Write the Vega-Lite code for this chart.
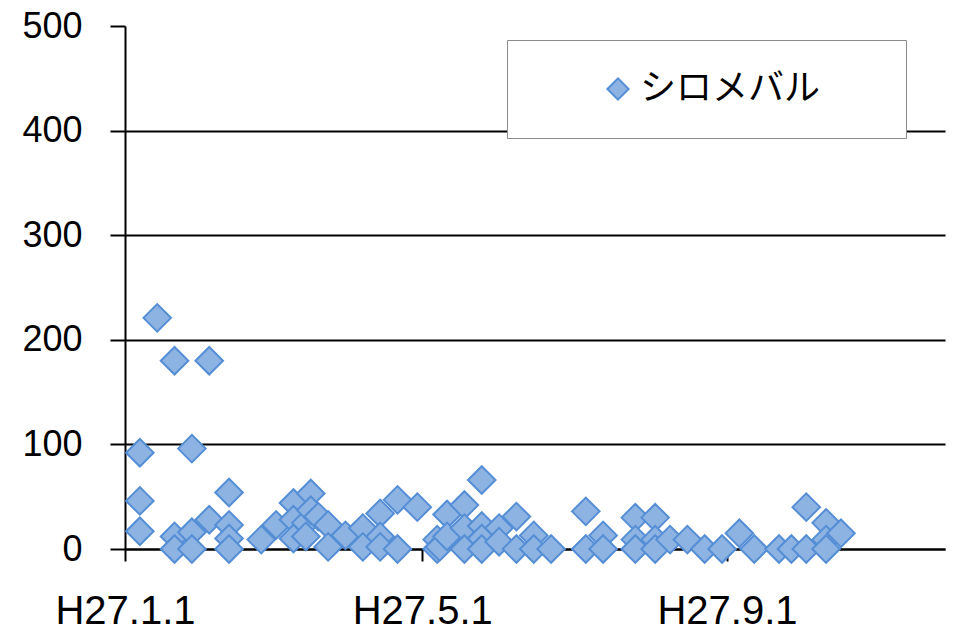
{
  "$schema": "https://vega.github.io/schema/vega-lite/v6.json",
  "width": 820,
  "height": 523,
  "autosize": {"type": "none"},
  "padding": {"left": 125, "top": 26, "right": 10, "bottom": 84},
  "background": "white",
  "config": {"view": {"stroke": null}},
  "data": {
    "values": [
      {"date": "2015-01-07", "count": 92, "species": "シロメバル"},
      {"date": "2015-01-07", "count": 46, "species": "シロメバル"},
      {"date": "2015-01-07", "count": 17, "species": "シロメバル"},
      {"date": "2015-01-14", "count": 221, "species": "シロメバル"},
      {"date": "2015-01-21", "count": 180, "species": "シロメバル"},
      {"date": "2015-01-21", "count": 12, "species": "シロメバル"},
      {"date": "2015-01-21", "count": 0, "species": "シロメバル"},
      {"date": "2015-01-28", "count": 96, "species": "シロメバル"},
      {"date": "2015-01-28", "count": 16, "species": "シロメバル"},
      {"date": "2015-01-28", "count": 0, "species": "シロメバル"},
      {"date": "2015-02-04", "count": 180, "species": "シロメバル"},
      {"date": "2015-02-04", "count": 28, "species": "シロメバル"},
      {"date": "2015-02-12", "count": 54, "species": "シロメバル"},
      {"date": "2015-02-12", "count": 23, "species": "シロメバル"},
      {"date": "2015-02-12", "count": 10, "species": "シロメバル"},
      {"date": "2015-02-12", "count": 0, "species": "シロメバル"},
      {"date": "2015-02-25", "count": 9, "species": "シロメバル"},
      {"date": "2015-03-03", "count": 23, "species": "シロメバル"},
      {"date": "2015-03-10", "count": 44, "species": "シロメバル"},
      {"date": "2015-03-10", "count": 28, "species": "シロメバル"},
      {"date": "2015-03-10", "count": 10, "species": "シロメバル"},
      {"date": "2015-03-15", "count": 25, "species": "シロメバル"},
      {"date": "2015-03-15", "count": 12, "species": "シロメバル"},
      {"date": "2015-03-17", "count": 53, "species": "シロメバル"},
      {"date": "2015-03-17", "count": 37, "species": "シロメバル"},
      {"date": "2015-03-20", "count": 31, "species": "シロメバル"},
      {"date": "2015-03-24", "count": 23, "species": "シロメバル"},
      {"date": "2015-03-24", "count": 2, "species": "シロメバル"},
      {"date": "2015-03-31", "count": 13, "species": "シロメバル"},
      {"date": "2015-04-07", "count": 20, "species": "シロメバル"},
      {"date": "2015-04-07", "count": 2, "species": "シロメバル"},
      {"date": "2015-04-14", "count": 34, "species": "シロメバル"},
      {"date": "2015-04-14", "count": 12, "species": "シロメバル"},
      {"date": "2015-04-14", "count": 2, "species": "シロメバル"},
      {"date": "2015-04-21", "count": 47, "species": "シロメバル"},
      {"date": "2015-04-21", "count": 0, "species": "シロメバル"},
      {"date": "2015-04-29", "count": 40, "species": "シロメバル"},
      {"date": "2015-05-07", "count": 9, "species": "シロメバル"},
      {"date": "2015-05-07", "count": 0, "species": "シロメバル"},
      {"date": "2015-05-08", "count": 2, "species": "シロメバル"},
      {"date": "2015-05-11", "count": 33, "species": "シロメバル"},
      {"date": "2015-05-11", "count": 12, "species": "シロメバル"},
      {"date": "2015-05-18", "count": 42, "species": "シロメバル"},
      {"date": "2015-05-18", "count": 20, "species": "シロメバル"},
      {"date": "2015-05-18", "count": 0, "species": "シロメバル"},
      {"date": "2015-05-25", "count": 66, "species": "シロメバル"},
      {"date": "2015-05-25", "count": 22, "species": "シロメバル"},
      {"date": "2015-05-25", "count": 10, "species": "シロメバル"},
      {"date": "2015-05-25", "count": 0, "species": "シロメバル"},
      {"date": "2015-06-01", "count": 20, "species": "シロメバル"},
      {"date": "2015-06-01", "count": 7, "species": "シロメバル"},
      {"date": "2015-06-08", "count": 31, "species": "シロメバル"},
      {"date": "2015-06-08", "count": 0, "species": "シロメバル"},
      {"date": "2015-06-15", "count": 13, "species": "シロメバル"},
      {"date": "2015-06-15", "count": 0, "species": "シロメバル"},
      {"date": "2015-06-22", "count": 0, "species": "シロメバル"},
      {"date": "2015-07-06", "count": 36, "species": "シロメバル"},
      {"date": "2015-07-06", "count": 0, "species": "シロメバル"},
      {"date": "2015-07-13", "count": 13, "species": "シロメバル"},
      {"date": "2015-07-13", "count": 0, "species": "シロメバル"},
      {"date": "2015-07-26", "count": 30, "species": "シロメバル"},
      {"date": "2015-07-26", "count": 9, "species": "シロメバル"},
      {"date": "2015-07-26", "count": 0, "species": "シロメバル"},
      {"date": "2015-08-03", "count": 30, "species": "シロメバル"},
      {"date": "2015-08-03", "count": 9, "species": "シロメバル"},
      {"date": "2015-08-03", "count": 0, "species": "シロメバル"},
      {"date": "2015-08-09", "count": 9, "species": "シロメバル"},
      {"date": "2015-08-16", "count": 9, "species": "シロメバル"},
      {"date": "2015-08-23", "count": 0, "species": "シロメバル"},
      {"date": "2015-08-30", "count": 0, "species": "シロメバル"},
      {"date": "2015-09-06", "count": 15, "species": "シロメバル"},
      {"date": "2015-09-12", "count": 0, "species": "シロメバル"},
      {"date": "2015-09-22", "count": 0, "species": "シロメバル"},
      {"date": "2015-09-27", "count": 0, "species": "シロメバル"},
      {"date": "2015-10-03", "count": 40, "species": "シロメバル"},
      {"date": "2015-10-03", "count": 0, "species": "シロメバル"},
      {"date": "2015-10-11", "count": 25, "species": "シロメバル"},
      {"date": "2015-10-11", "count": 9, "species": "シロメバル"},
      {"date": "2015-10-11", "count": 0, "species": "シロメバル"},
      {"date": "2015-10-17", "count": 15, "species": "シロメバル"}
    ]
  },
  "mark": {
    "type": "point",
    "shape": "diamond",
    "filled": true,
    "size": 760,
    "opacity": 1,
    "stroke": "#558ed5",
    "strokeWidth": 2
  },
  "encoding": {
    "x": {
      "field": "date",
      "type": "temporal",
      "title": null,
      "scale": {
        "type": "utc",
        "domain": [
          {"year": 2015, "month": 1, "date": 1, "utc": true},
          {"year": 2015, "month": 11, "date": 28, "utc": true}
        ]
      },
      "axis": {
        "values": [
          {"year": 2015, "month": 1, "date": 1, "utc": true},
          {"year": 2015, "month": 5, "date": 1, "utc": true},
          {"year": 2015, "month": 9, "date": 1, "utc": true}
        ],
        "labelExpr": "'H27.' + (utcmonth(datum.value) + 1) + '.' + utcdate(datum.value)",
        "grid": false,
        "domainColor": "black",
        "domainWidth": 2,
        "tickColor": "black",
        "tickWidth": 2,
        "tickSize": 12,
        "labelPadding": 30,
        "labelFont": "Liberation Sans",
        "labelFontSize": 40,
        "labelColor": "black",
        "labelFlush": false,
        "labelOverlap": false
      }
    },
    "y": {
      "field": "count",
      "type": "quantitative",
      "title": null,
      "scale": {"domain": [0, 500], "nice": false},
      "axis": {
        "values": [0, 100, 200, 300, 400, 500],
        "grid": true,
        "gridColor": "black",
        "gridWidth": 2,
        "gridOpacity": {"condition": {"test": "datum.value >= 500", "value": 0}, "value": 1},
        "domainColor": "black",
        "domainWidth": 2,
        "tickColor": "black",
        "tickWidth": 2,
        "tickSize": 15,
        "labelPadding": 28,
        "labelFont": "Liberation Sans",
        "labelFontSize": 36,
        "labelColor": "black"
      }
    },
    "color": {
      "field": "species",
      "type": "nominal",
      "scale": {"range": ["#8db3e2"]},
      "legend": {
        "title": null,
        "orient": "none",
        "legendX": 382,
        "legendY": 14,
        "padding": 31,
        "fillColor": "white",
        "strokeColor": "#8c8c8c",
        "symbolType": "diamond",
        "symbolSize": 450,
        "symbolFillColor": "#8db3e2",
        "symbolStrokeColor": "#558ed5",
        "symbolStrokeWidth": 2,
        "symbolOpacity": 1,
        "symbolOffset": 62,
        "labelOffset": 4,
        "labelFont": "Noto Sans CJK JP",
        "labelFontSize": 36,
        "labelColor": "black",
        "labelLimit": 500,
        "labelExpr": "datum.label + '\u3000\u2002\u200b'"
      }
    }
  }
}
